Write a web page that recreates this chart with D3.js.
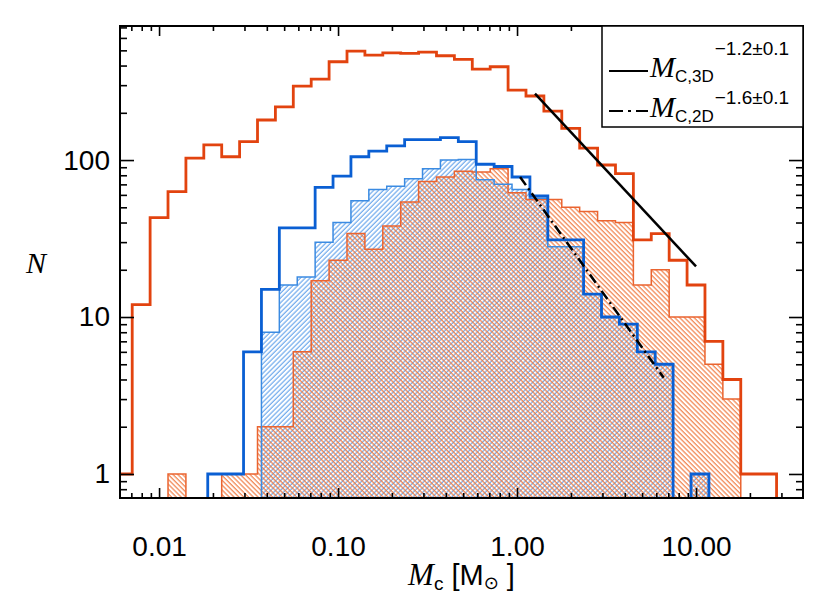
<!DOCTYPE html>
<html>
<head>
<meta charset="utf-8">
<script src="https://cdn.jsdelivr.net/npm/d3@7/dist/d3.min.js"></script>
<style>
  body { margin: 0; background: #fff; }
  .tick text { font-family: "Liberation Sans", Arial, sans-serif; }
</style>
</head>
<body>
<svg id="chart" width="830" height="594"></svg>
<script>
// bin centres in log10(M / Msun), 0.1 dex wide
var binLogM = [-2.3, -2.2, -2.1, -2.0, -1.9, -1.8, -1.7, -1.6, -1.5, -1.4,
               -1.3, -1.2, -1.1, -1.0, -0.9, -0.8, -0.7, -0.6, -0.5, -0.4,
               -0.3, -0.2, -0.1, 0.0, 0.1, 0.2, 0.3, 0.4, 0.5, 0.6,
               0.7, 0.8, 0.9, 1.0, 1.1, 1.2, 1.3, 1.4, 1.5];
// blue histograms use bins shifted by a small offset
var blueShift = 0.022;

// thick orange outline
var orangeOutline = [0, 1, 12, 43, 63, 103, 125, 105, 131, 180,
                     218, 296, 328, 423, 495, 466, 482, 478, 487, 462,
                     438, 380, 393, 279, 256, 205, 159, 119, 93, 82,
                     31, 34, 23, 16, 7, 4, 1, 1, 0];
// thick blue outline
var blueOutline = [0, 0, 0, 0, 0, 0, 1, 1, 6, 15,
                   37, 37, 67, 79, 105, 114, 123, 135, 135, 139,
                   131, 94, 91, 78, 59, 31, 31, 14, 10, 9,
                   6, 5, 0, 1, 0, 0, 0, 0, 0];
// blue hatched
var blueHatched = [0, 0, 0, 0, 0, 0, 0, 0, 0, 8,
                   16, 18, 30, 40, 55, 65, 68, 76, 88, 100,
                   101, 75, 70, 65, 57, 28, 28, 14, 10, 9,
                   6, 5, 0, 1, 0, 0, 0, 0, 0];
// orange hatched
var orangeHatched = [0, 0, 0, 0, 1, 0, 0, 1, 1, 2,
                     2, 6, 17, 23, 34, 27, 38, 54, 73, 78,
                     85, 84, 88, 62, 56, 56, 50, 47, 41, 40,
                     16, 20, 10, 10, 5, 3, 0, 0, 0];

// power-law fits (end points)
var fit3dM = [1.26, 10.0], fit3dN = [265, 21];
var fit2dM = [1.04, 6.6], fit2dN = [78, 4.1];

var xMajor = [0.01, 0.1, 1, 10];
var yMajor = [1, 10, 100];

var svg = d3.select("#chart"),
    MARGINS = { top: 26, right: 27, bottom: 96, left: 120 },
    WIDTH = 830, HEIGHT = 594,
    x0 = MARGINS.left, x1 = WIDTH - MARGINS.right,
    y0 = HEIGHT - MARGINS.bottom, y1 = MARGINS.top,
    xScale = d3.scaleLog().domain([0.00605, 39.6]).range([x0, x1]),
    yScale = d3.scaleLog().domain([0.703, 714.6]).range([y0, y1]);

var defs = svg.append("defs");
defs.append("clipPath").attr("id", "plotclip")
  .append("rect").attr("x", x0).attr("y", y1)
  .attr("width", x1 - x0).attr("height", y0 - y1);

function hatch(id, angle, color, w) {
  var p = defs.append("pattern").attr("id", id)
    .attr("patternUnits", "userSpaceOnUse")
    .attr("width", 3.4).attr("height", 3.4)
    .attr("patternTransform", "rotate(" + angle + ")");
  p.append("line").attr("x1", 1).attr("y1", -1).attr("x2", 1).attr("y2", 5)
    .attr("stroke", color).attr("stroke-width", w);
}
hatch("hatchBlue", 45, "#3d8be6", 0.9);
hatch("hatchOrange", -45, "#f07438", 1.1);

function yOf(c) { return c > 0 ? yScale(c) : y0 + 10; }

// IDL psym=10 style steps: first and last bins only half wide
function stepPoints(counts, shift) {
  var first = counts.findIndex(function(c) { return c > 0; }),
      last = counts.length - 1 - counts.slice().reverse().findIndex(function(c) { return c > 0; }),
      lo = Math.max(first - 1, 0),
      hi = Math.min(last + 1, counts.length - 1),
      pts = [];
  for (var i = lo; i <= hi; i++) {
    var x = xScale(Math.pow(10, binLogM[i] + shift)), y = yOf(counts[i]);
    if (i === lo) {
      pts.push([x, y]);
    } else {
      var xm = xScale(Math.pow(10, (binLogM[i - 1] + binLogM[i]) / 2 + shift));
      pts.push([xm, yOf(counts[i - 1])]);
      pts.push([xm, y]);
    }
    if (i === hi) pts.push([x, y]);
  }
  return pts;
}

var line = d3.line();
var plot = svg.append("g").attr("clip-path", "url(#plotclip)");

function fillArea(counts, shift, pattern) {
  var pts = stepPoints(counts, shift);
  pts.push([pts[pts.length - 1][0], y0 + 10]);
  pts.push([pts[0][0], y0 + 10]);
  plot.append("path").attr("d", line(pts) + "Z")
    .attr("fill", "url(#" + pattern + ")").attr("stroke", "none");
}
function outline(counts, shift, color, w) {
  plot.append("path").attr("d", line(stepPoints(counts, shift)))
    .attr("fill", "none").attr("stroke", color).attr("stroke-width", w)
    .attr("stroke-linejoin", "miter");
}

fillArea(blueHatched, blueShift, "hatchBlue");
fillArea(orangeHatched, 0, "hatchOrange");
outline(orangeHatched, 0, "#ea6430", 1.5);
outline(blueHatched, blueShift, "#3b8be2", 1.5);
outline(blueOutline, blueShift, "#0a5fd3", 2.8);
outline(orangeOutline, 0, "#e2430f", 2.8);

var fitLine = d3.line()
  .x(function(d) { return xScale(d[0]); })
  .y(function(d) { return yScale(d[1]); });
plot.append("path").attr("d", fitLine(d3.zip(fit3dM, fit3dN)))
  .attr("stroke", "#000").attr("stroke-width", 2.5).attr("fill", "none");
plot.append("path").attr("d", fitLine(d3.zip(fit2dM, fit2dN)))
  .attr("stroke", "#000").attr("stroke-width", 2.5).attr("fill", "none")
  .attr("stroke-dasharray", "10,4,2,4");

// axes, ticks inward on all four sides
var xMinor = xScale.ticks().filter(function(t) { return xMajor.indexOf(+t.toPrecision(3)) < 0; }),
    yMinor = yScale.ticks().filter(function(t) { return yMajor.indexOf(+t.toPrecision(3)) < 0; });

var axes = [
  { make: d3.axisBottom, scale: xScale, pos: "translate(0," + y0 + ")", major: xMajor, minor: xMinor, big: -10, small: -5, pad: 38, fmt: d3.format(".2f") },
  { make: d3.axisTop, scale: xScale, pos: "translate(0," + y1 + ")", major: xMajor, minor: xMinor, big: -10, small: -5, pad: 0, fmt: null },
  { make: d3.axisLeft, scale: yScale, pos: "translate(" + x0 + ",0)", major: yMajor, minor: yMinor, big: -14, small: -7, pad: 10, fmt: d3.format("d") },
  { make: d3.axisRight, scale: yScale, pos: "translate(" + x1 + ",0)", major: yMajor, minor: yMinor, big: -14, small: -7, pad: 0, fmt: null }
];
axes.forEach(function(a) {
  var gMin = svg.append("g").attr("transform", a.pos)
    .call(a.make(a.scale).tickValues(a.minor).tickSize(a.small).tickFormat(""));
  var gMaj = svg.append("g").attr("transform", a.pos)
    .call(a.make(a.scale).tickValues(a.major).tickSize(a.big).tickPadding(a.pad)
      .tickFormat(a.fmt ? a.fmt : ""));
  [gMin, gMaj].forEach(function(g) {
    g.select(".domain").remove();
    g.selectAll(".tick line").attr("stroke", "#000").attr("stroke-width", 1.6);
  });
  gMaj.selectAll(".tick text").attr("font-size", 28).attr("fill", "#000");
});

svg.append("rect").attr("x", x0).attr("y", y1)
  .attr("width", x1 - x0).attr("height", y0 - y1)
  .attr("fill", "none").attr("stroke", "#000").attr("stroke-width", 2);

// axis titles
var xt = svg.append("text").attr("x", (x0 + x1) / 2).attr("y", 585)
  .attr("text-anchor", "middle").attr("font-size", 29)
  .attr("font-family", "Liberation Sans, Arial, sans-serif");
xt.append("tspan").attr("font-family", "Liberation Serif, serif").attr("font-style", "italic").attr("font-size", 31).text("M");
xt.append("tspan").attr("font-size", 19).attr("dy", 5).text("c");
xt.append("tspan").attr("dy", -5).text("  [M");
xt.append("tspan").attr("font-size", 18).attr("dy", 4).attr("font-family", "DejaVu Sans, sans-serif").text("\u2299");
xt.append("tspan").attr("dy", -4).text(" ]");

svg.append("text").attr("x", 36).attr("y", 273)
  .attr("text-anchor", "middle").attr("font-size", 30)
  .attr("font-family", "Liberation Serif, serif").attr("font-style", "italic")
  .text("N");

// legend
var lg = svg.append("g");
lg.append("rect").attr("x", 602).attr("y", y1).attr("width", x1 - 602).attr("height", 101)
  .attr("fill", "#fff").attr("stroke", "#000").attr("stroke-width", 1.5);
var legendRows = [
  { sub: "C,3D", sup: "\u22121.2\u00b10.1", dash: null, y: 77, lineY: 71, supDy: -27 },
  { sub: "C,2D", sup: "\u22121.6\u00b10.1", dash: "14,5,3,5", y: 117, lineY: 111, supDy: -18 }
];
legendRows.forEach(function(r) {
  lg.append("line").attr("x1", 609).attr("x2", 648).attr("y1", r.lineY).attr("y2", r.lineY)
    .attr("stroke", "#000").attr("stroke-width", 2).attr("stroke-dasharray", r.dash);
  var t = lg.append("text").attr("x", 650).attr("y", r.y).attr("font-size", 30)
    .attr("font-family", "Liberation Sans, Arial, sans-serif");
  t.append("tspan").attr("font-family", "Liberation Serif, serif").attr("font-style", "italic").text("M");
  t.append("tspan").attr("font-size", 17).attr("dy", 5).text(r.sub);
  t.append("tspan").attr("font-size", 19).attr("dy", r.supDy).attr("dx", 1).text(r.sup);
});
</script>
</body>
</html>
